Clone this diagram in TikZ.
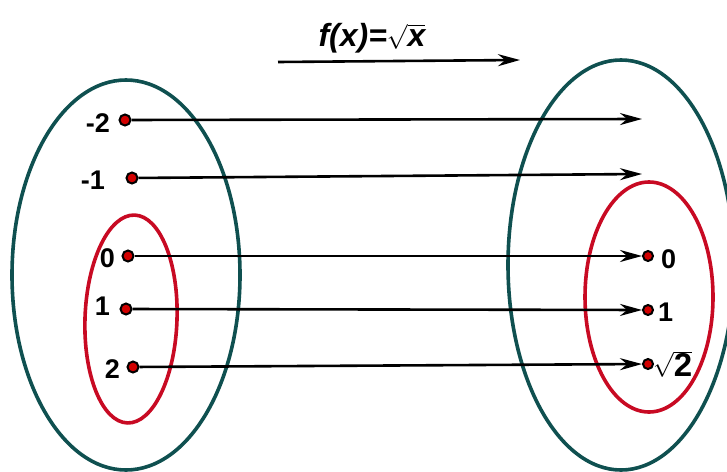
\documentclass[tikz,border=0pt]{standalone}
\usepackage{fontspec}
\setmainfont{Liberation Sans}
\usetikzlibrary{arrows.meta}
\definecolor{setteal}{RGB}{15,80,80}
\definecolor{subred}{RGB}{200,10,35}
\definecolor{dotred}{RGB}{210,0,0}
\begin{document}
\begin{tikzpicture}[x=1pt,y=-1pt,
  bigset/.style={draw=setteal,line width=3.6pt},
  subset/.style={draw=subred,line width=3.6pt},
  pt/.style={circle,draw=black,fill=dotred,line width=2pt,minimum size=11pt,inner sep=0pt},
  lbl/.style={font=\bfseries\fontsize{27}{27}\selectfont,inner sep=0pt,text height=19.5pt,text depth=0pt},
  map/.style={line width=2.6pt,-{Stealth[length=22pt,width=12pt]}}
]
\useasboundingbox (0,0) rectangle (727,471);
\begin{scope}
\clip (0,0) rectangle (727,471);
% sets
\draw[bigset] (126,275) ellipse [x radius=114, y radius=195];
\draw[bigset] (621,265) ellipse [x radius=113, y radius=205];
\draw[subset,rotate around={-2:(131,319)}] (131,319) ellipse [x radius=46, y radius=104];
\draw[subset] (649,297) ellipse [x radius=64, y radius=115];
\end{scope}
% title
\node[font=\bfseries\itshape\fontsize{32}{32}\selectfont] (title) at (372,38)
  {f(x)=$\sqrt{\mbox{\bfseries\itshape x}}$};
\coordinate (ta) at (278,62);
\coordinate (tb) at (520,60);
\draw[map] (ta) -- (tb);
% domain points
\node[pt] (am2) at (125,120) {};
\node[pt] (am1) at (132,178) {};
\node[pt] (a0) at (128,256) {};
\node[pt] (a1) at (126,309) {};
\node[pt] (a2) at (133,367) {};
\node[lbl,anchor=east] (lm2) at (110,123) {-2};
\node[lbl,anchor=east] (lm1) at (105,180) {-1};
\node[lbl,anchor=east] (l0) at (115,258) {0};
\node[lbl,anchor=east] (l1) at (110,306) {1};
\node[lbl,anchor=east] (l2) at (120,369) {2};
% codomain points
\node[pt,minimum size=10pt] (b0) at (648,256) {};
\node[pt,minimum size=10pt] (b1) at (648,310) {};
\node[pt,minimum size=10pt] (b2) at (648,364) {};
\node[lbl,anchor=west] (r0) at (661,259) {0};
\node[lbl,anchor=west] (r1) at (658,312) {1};
\node[anchor=west,inner sep=0pt,font=\bfseries\fontsize{33}{33}\selectfont] (r2) at (653,364) {$\sqrt{\mbox{2}}$};
% free ends
\coordinate (em2) at (642,119);
\coordinate (em1) at (642,174);
% maps
\draw[map] (am2) -- (em2);
\draw[map] (am1) -- (em1);
\draw[map] (a0) -- (b0);
\draw[map] (a1) -- (b1);
\draw[map] (a2) -- (b2);
\end{tikzpicture}
\end{document}
